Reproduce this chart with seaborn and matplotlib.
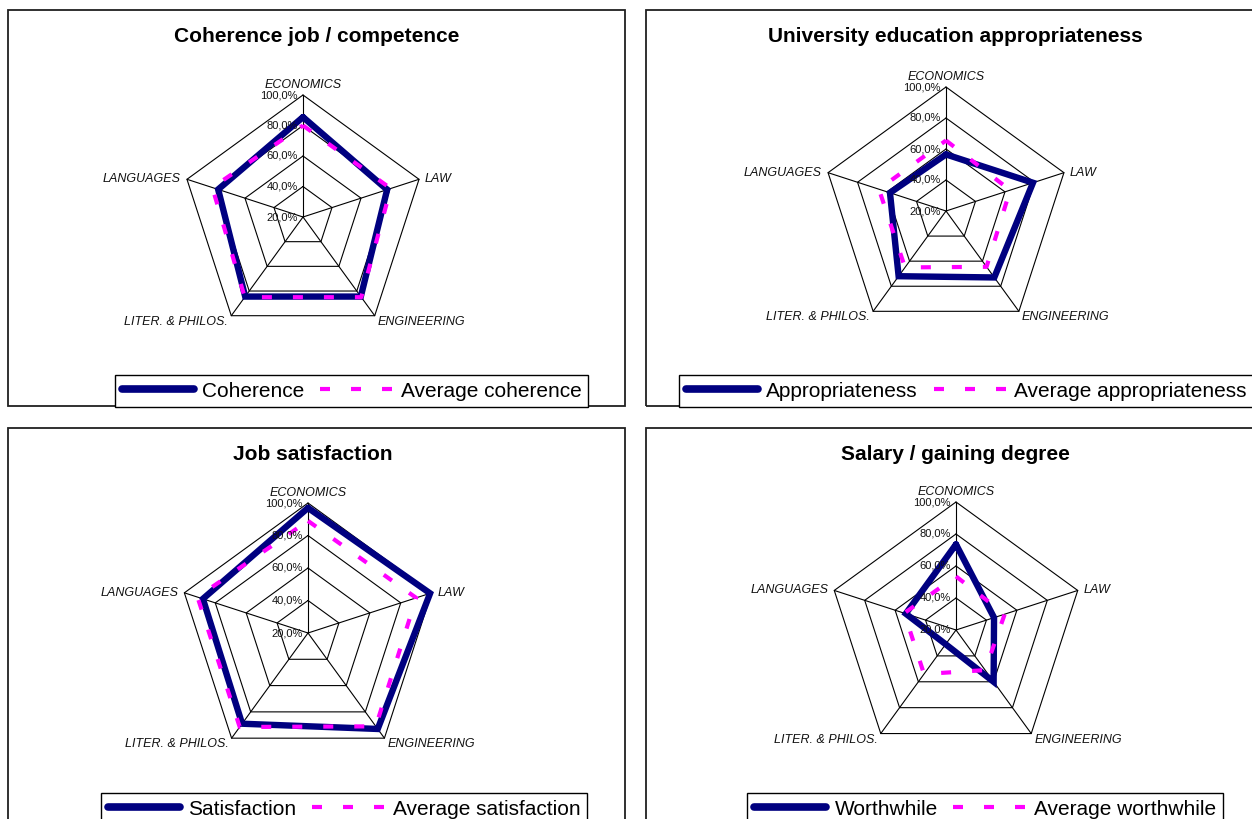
import numpy as np
import pandas as pd
import matplotlib
matplotlib.use("Agg")
import matplotlib.pyplot as plt
from matplotlib.lines import Line2D
from matplotlib.patches import Rectangle
from matplotlib.transforms import offset_copy
import seaborn as sns

# ---------------------------------------------------------------- data
categories = ["ECONOMICS", "LAW", "ENGINEERING", "LITER. & PHILOS.", "LANGUAGES"]

coherence = [0.855, 0.78, 0.845, 0.845, 0.785]
avg_coherence = [0.80, 0.805, 0.85, 0.85, 0.825]

appropriateness = [0.565, 0.79, 0.73, 0.72, 0.58]
avg_appropriateness = [0.655, 0.635, 0.645, 0.65, 0.655]

satisfaction = [0.97, 0.99, 0.93, 0.89, 0.88]
avg_satisfaction = [0.89, 0.90, 0.91, 0.915, 0.915]

worthwhile = [0.735, 0.45, 0.60, 0.31, 0.53]
avg_worthwhile = [0.535, 0.52, 0.51, 0.54, 0.54]

r_ticks = [0.2, 0.4, 0.6, 0.8, 1.0]
r_tick_labels = ["20,0%", "40,0%", "60,0%", "80,0%", "100,0%"]

titles = ["Coherence job / competence", "University education appropriateness",
          "Job satisfaction", "Salary / gaining degree"]
legend_names = [("Coherence", "Average coherence"),
                ("Appropriateness", "Average appropriateness"),
                ("Satisfaction", "Average satisfaction"),
                ("Worthwhile", "Average worthwhile")]

# ---------------------------------------------------------------- style
W, H = 1252, 819
NAVY = "#000080"
MAGENTA = "#FF00FF"

sns.set_style("white")
plt.rcParams["font.family"] = ["Liberation Sans", "DejaVu Sans"]
plt.rcParams["text.color"] = "black"

fig = plt.figure(figsize=(W / 100, H / 100), dpi=100)


def fx(x):
    return x / W


def fy(y):
    return 1 - y / H


# layout of each panel in pixels: frame box, title centre, radar centre/radius, legend corner
layouts = [
    dict(frame=(8, 10, 625, 406), title=(317, 37), center=(303, 217), radius=122,
         legend=(115, 375)),
    dict(frame=(646, 10, 1300, 406), title=(955, 37), center=(946, 211), radius=124,
         legend=(679, 375)),
    dict(frame=(8, 428, 625, 900), title=(313, 454), center=(308, 633), radius=130,
         legend=(101, 793)),
    dict(frame=(646, 428, 1300, 900), title=(955, 454), center=(956, 630), radius=128,
         legend=(747, 793)),
]
series_list = [(coherence, avg_coherence), (appropriateness, avg_appropriateness),
               (satisfaction, avg_satisfaction), (worthwhile, avg_worthwhile)]

n = len(categories)
theta = np.arange(n) * 2 * np.pi / n
theta_closed = np.append(theta, 2 * np.pi)

# label placement around the outer ring: (ha, va, dx, dy) in pixels
cat_place = [("center", "bottom", 0, 4), ("left", "center", 6, 0),
             ("left", "top", 3, 0), ("right", "top", -3, 0), ("right", "center", -6, 0)]

AVG_LW = 3.0
avg_dash = (0, (2.4, 5.04))
LEG_FS = 15
handle_len = 72 / (LEG_FS * 100 / 72)      # three dashes of the average line

for lay, title, names, (main, avg) in zip(layouts, titles, legend_names, series_list):
    x0, y0, x1, y1 = lay["frame"]
    fig.patches.append(Rectangle((fx(x0), fy(y1)), (x1 - x0) / W, (y1 - y0) / H,
                                 transform=fig.transFigure, fill=False,
                                 edgecolor="#202020", linewidth=1.3, zorder=0))
    tx, ty = lay["title"]
    fig.text(fx(tx), fy(ty), title, ha="center", va="center", fontsize=15,
             fontweight="bold", color="black")

    ccx, ccy = lay["center"]
    R = lay["radius"]
    ax = fig.add_axes([fx(ccx - R), fy(ccy + R), 2 * R / W, 2 * R / H], projection="polar")
    ax.set_theta_offset(np.pi / 2)
    ax.set_theta_direction(-1)
    ax.set_ylim(r_ticks[0], r_ticks[-1])
    ax.grid(False)
    ax.set_xticks([])
    ax.set_yticks([])
    ax.spines["polar"].set_visible(False)
    ax.patch.set_alpha(0)

    # pentagon rings and spokes
    for r in r_ticks[1:]:
        ax.plot(theta_closed, [r] * (n + 1), color="black", lw=0.8, zorder=1, clip_on=False)
    for t in theta:
        ax.plot([t, t], [r_ticks[0], r_ticks[-1]], color="black", lw=0.8, zorder=1, clip_on=False)

    # radial value labels along the top spoke
    tr = offset_copy(ax.transData, fig=fig, x=-5, y=0, units="dots")
    for r, lab in zip(r_ticks, r_tick_labels):
        ax.text(0, r, lab, transform=tr, ha="right", va="center", fontsize=8,
                color="#111111", zorder=5)

    # category labels at the outer vertices
    for t, cat, (ha, va, dx, dy) in zip(theta, categories, cat_place):
        trc = offset_copy(ax.transData, fig=fig, x=dx, y=dy, units="dots")
        ax.text(t, r_ticks[-1], cat, transform=trc, ha=ha, va=va, fontsize=9,
                fontstyle="italic", color="#111111")

    df_main = pd.DataFrame({"theta": theta_closed, "value": list(main) + [main[0]]})
    df_avg = pd.DataFrame({"theta": theta_closed, "value": list(avg) + [avg[0]]})
    sns.lineplot(data=df_main, x="theta", y="value", sort=False, estimator=None, ax=ax,
                 color=NAVY, lw=4.6, solid_joinstyle="miter", clip_on=False, zorder=3)
    sns.lineplot(data=df_avg, x="theta", y="value", sort=False, estimator=None, ax=ax,
                 color=MAGENTA, lw=AVG_LW, linestyle=avg_dash, dash_capstyle="butt",
                 clip_on=False, zorder=4)
    ax.set_xlabel("")
    ax.set_ylabel("")
    ax.set_ylim(r_ticks[0], r_ticks[-1])

    handles = [Line2D([], [], color=NAVY, lw=5.5, solid_capstyle="round"),
               Line2D([], [], color=MAGENTA, lw=AVG_LW, linestyle=avg_dash,
                      dash_capstyle="butt")]
    lx, ly = lay["legend"]
    leg = fig.legend(handles=handles, labels=list(names), loc="upper left",
                     bbox_to_anchor=(fx(lx), fy(ly)), ncol=2, fontsize=LEG_FS,
                     frameon=True, fancybox=False, edgecolor="black", framealpha=1,
                     handlelength=handle_len, handletextpad=0.42, columnspacing=0.75,
                     borderpad=0.32, borderaxespad=0)
    leg.get_frame().set_linewidth(1.0)

fig.savefig("out.png", dpi=100)
